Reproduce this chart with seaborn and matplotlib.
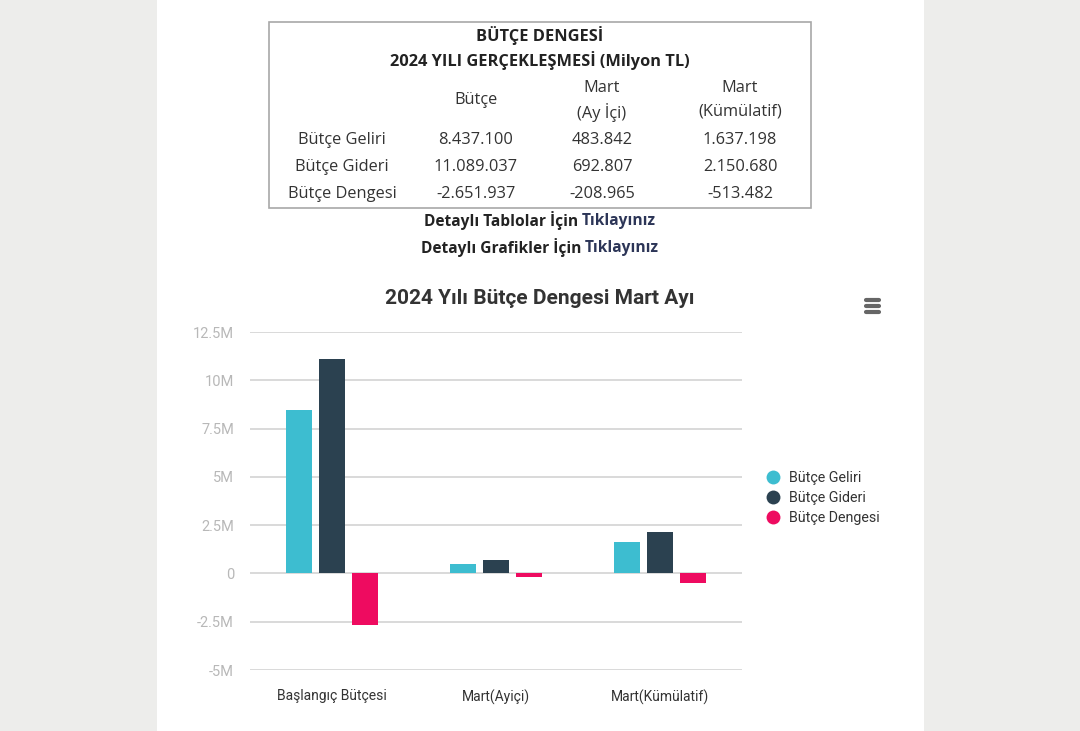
import numpy as np
import pandas as pd
import matplotlib
matplotlib.use("Agg")
import matplotlib.pyplot as plt
from matplotlib.patches import Rectangle
from matplotlib.lines import Line2D
import seaborn as sns

# veriler (Milyon TL)
kategoriler = ["Başlangıç Bütçesi", "Mart(Ayiçi)", "Mart(Kümülatif)"]
seriler = ["Bütçe Geliri", "Bütçe Gideri", "Bütçe Dengesi"]
gelir = [8437100, 483842, 1637198]
gider = [11089037, 692807, 2150680]
denge = [-2651937, -208965, -513482]
renkler = ["#3dbdd0", "#2b4150", "#ee0b60"]

# tablo metinleri
tablo_basliklar = ["Bütçe", "Mart\n(Ay İçi)", "Mart\n(Kümülatif)"]
tablo_satirlar = ["Bütçe Geliri", "Bütçe Gideri", "Bütçe Dengesi"]
tablo_degerler = [["8.437.100", "483.842", "1.637.198"],
                  ["11.089.037", "692.807", "2.150.680"],
                  ["-2.651.937", "-208.965", "-513.482"]]

y_ticks = [-5e6, -2.5e6, 0, 2.5e6, 5e6, 7.5e6, 10e6, 12.5e6]

df = pd.DataFrame({
    "kategori": kategoriler * 3,
    "seri": [s for s in seriler for _ in kategoriler],
    "deger": gelir + gider + denge,
})

sns.set_style("white")
W, H = 1080, 731
fig = plt.figure(figsize=(W / 100, H / 100), dpi=100)
fig.patch.set_facecolor("#ededeb")

def fx(x):
    return x / W

def fy(y):
    return 1 - y / H

# beyaz panel
fig.patches.append(Rectangle((fx(157), 0), fx(924 - 157), 1, transform=fig.transFigure,
                             facecolor="white", edgecolor="none", zorder=-5))
# tablo cercevesi
fig.patches.append(Rectangle((fx(269), fy(208)), fx(811 - 269), (208 - 22) / H,
                             transform=fig.transFigure, facecolor="none",
                             edgecolor="#a8a8a8", lw=1.2, zorder=1))

tf = "Open Sans"
fs = 11.8
fig.text(fx(540), fy(36), "BÜTÇE DENGESİ", ha="center", va="center",
         fontsize=fs, fontweight="bold", family=tf, color="#222222")
fig.text(fx(540), fy(61), "2024 YILI GERÇEKLEŞMESİ (Milyon TL)", ha="center", va="center",
         fontsize=fs, fontweight="bold", family=tf, color="#222222")

kol_x = [476, 602, 740]
fig.text(fx(kol_x[0]), fy(100), tablo_basliklar[0], ha="center", va="center",
         fontsize=fs, family=tf, color="#333333")
for i in (1, 2):
    ust, alt = tablo_basliklar[i].split("\n")
    fig.text(fx(kol_x[i]), fy(88), ust, ha="center", va="center", fontsize=fs, family=tf, color="#333333")
    fig.text(fx(kol_x[i]), fy(112), alt, ha="center", va="center", fontsize=fs, family=tf, color="#333333")

satir_y = [140, 167, 194]
for r, etiket in enumerate(tablo_satirlar):
    fig.text(fx(342), fy(satir_y[r]), etiket, ha="center", va="center",
             fontsize=fs, family=tf, color="#333333")
    for c, v in enumerate(tablo_degerler[r]):
        fig.text(fx(kol_x[c]), fy(satir_y[r]), v, ha="center", va="center",
                 fontsize=fs, family=tf, color="#333333")

# linkler
renderer = fig.canvas.get_renderer()
for yy, bas in [(221, "Detaylı Tablolar İçin "), (248, "Detaylı Grafikler İçin ")]:
    olcu = fig.text(0, 0, bas + "Tıklayınız", fontsize=11.2, fontweight="bold", family=tf)
    tam = olcu.get_window_extent(renderer).width
    olcu.remove()
    x0 = 540 - tam / 2
    fig.text(fx(x0), fy(yy), bas.strip(), ha="left", va="center", fontsize=11.2,
             fontweight="bold", family=tf, color="#222222")
    fig.text(fx(x0 + tam), fy(yy), "Tıklayınız", ha="right", va="center", fontsize=11.2,
             fontweight="bold", family=tf, color="#2c3557")

# grafik
ax = fig.add_axes([fx(250), fy(670), fx(742 - 250), (670 - 332) / H])
ax.set_zorder(3)
ax.set_facecolor("none")
sns.barplot(data=df, x="kategori", y="deger", hue="seri", palette=renkler,
            saturation=1, width=0.6, gap=0.22, ax=ax, legend=False, zorder=3)
for p in ax.patches:
    p.set_edgecolor("none")

ax.set_ylim(-5e6, 12.5e6)
ax.set_xlim(-0.5, 2.5)
ax.set_yticks(y_ticks)
ax.set_yticklabels(["0" if v == 0 else f"{v / 1e6:g}M" for v in y_ticks])
ax.yaxis.grid(True, color="#d0d0d0", lw=1.1)
ax.set_axisbelow(True)
for s in ax.spines.values():
    s.set_visible(False)
ax.tick_params(axis="y", length=0, pad=11.5, labelsize=10.5, labelcolor="#b8b8b8")
ax.tick_params(axis="x", length=0, pad=14, labelsize=10, labelcolor="#333333")
for lab in ax.get_yticklabels():
    lab.set_family("Roboto")
for lab in ax.get_xticklabels():
    lab.set_family("Roboto")
ax.set_xlabel("")
ax.set_ylabel("")

fig.text(fx(540), fy(299), "2024 Yılı Bütçe Dengesi Mart Ayı", ha="center", va="center",
         fontsize=15, fontweight="bold", family="Roboto", color="#333333")

# lejant
tutucular = [Line2D([0], [0], marker="o", linestyle="none", markersize=10,
                    markerfacecolor=c, markeredgecolor="none") for c in renkler]
leg = fig.legend(tutucular, seriler, loc="center left", bbox_to_anchor=(fx(746), fy(498)),
                 frameon=False, handletextpad=0.1, labelspacing=0.45,
                 prop={"family": "Roboto", "size": 10.3})
for t in leg.get_texts():
    t.set_color("#333333")

# menu simgesi
for yy in (300, 306, 312):
    fig.add_artist(Line2D([fx(866), fx(879)], [fy(yy), fy(yy)], color="#666666",
                          lw=3, solid_capstyle="round", transform=fig.transFigure))

fig.savefig("out.png", dpi=100, facecolor=fig.get_facecolor())
